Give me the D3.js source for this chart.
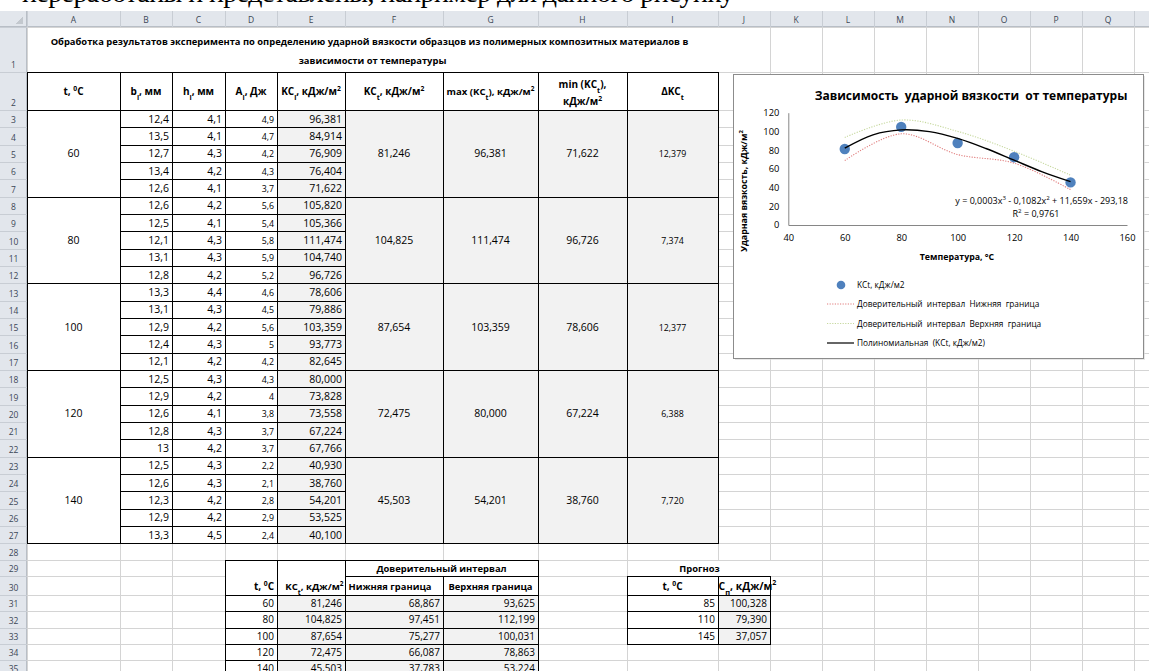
<!DOCTYPE html>
<html>
<head>
<meta charset="utf-8">
<script src="https://cdn.jsdelivr.net/npm/d3@7"></script>
<style>
  body { margin: 0; background: #fff; overflow: hidden; }
  text { font-family: "Open Sans", sans-serif; }
</style>
</head>
<body>
<svg id="sheet" width="1149" height="671"></svg>
<script>
// ---- данные таблицы ----
const colLetters = ["A","B","C","D","E","F","G","H","I","J","K","L","M","N","O","P","Q","R"];
const temps = [60, 80, 100, 120, 140];
const widthB = [12.4,13.5,12.7,13.4,12.6, 12.6,12.5,12.1,13.1,12.8, 13.3,13.1,12.9,12.4,12.1, 12.5,12.9,12.6,12.8,13, 12.5,12.6,12.3,12.9,13.3];
const heightH = [4.1,4.1,4.3,4.2,4.1, 4.2,4.1,4.3,4.3,4.2, 4.4,4.3,4.2,4.3,4.2, 4.3,4.2,4.1,4.3,4.2, 4.3,4.3,4.2,4.2,4.5];
const energyA = [4.9,4.7,4.2,4.3,3.7, 5.6,5.4,5.8,5.9,5.2, 4.6,4.5,5.6,5,4.2, 4.3,4,3.8,3.7,3.7, 2.2,2.1,2.8,2.9,2.4];
const kcI = [96.381,84.914,76.909,76.404,71.622, 105.820,105.366,111.474,104.740,96.726, 78.606,79.886,103.359,93.773,82.645,
             80.000,73.828,73.558,67.224,67.766, 40.930,38.760,54.201,53.525,40.100];
const kcMean = [81.246, 104.825, 87.654, 72.475, 45.503];
const kcMax = [96.381, 111.474, 103.359, 80.000, 54.201];
const kcMin = [71.622, 96.726, 78.606, 67.224, 38.760];
const deltaKC = [12.379, 7.374, 12.377, 6.388, 7.720];
const ciLow = [68.867, 97.451, 75.277, 66.087, 37.783];
const ciHigh = [93.625, 112.199, 100.031, 78.863, 53.224];
const forecastT = [85, 110, 145];
const forecastKC = [100.328, 79.390, 37.057];
// полиномиальная линия тренда
const trendX = [60, 70, 80, 90, 100, 110, 120, 130, 140];
const trendKC = [82.05, 96.31, 101.60, 99.72, 92.50, 81.74, 69.25, 56.83, 46.31];
const xTicks = [40, 60, 80, 100, 120, 140, 160];
const yTicks = [0, 20, 40, 60, 80, 100, 120];

// ---- геометрия листа ----
const colX = [27,120,172,225,277,345,443,538,627,718,770,822,874,926,978,1030,1082,1134,1186];
const rowEdges = [27, 72, 110];
for (let k = 1; k <= 25; k++) rowEdges.push(110 + 17.33 * k);
rowEdges.push(560, 576, 595);
for (let k = 1; k <= 5; k++) rowEdges.push(595 + 16.25 * k);

const svg = d3.select("#sheet");
const general = v => String(v).replace(".", ",");
const fixed3 = v => d3.format(".3f")(v).replace(".", ",");

function box(c1, r1, c2, r2) {
  const y0 = rowEdges[r1 - 1], y1 = rowEdges[r2];
  return {x: colX[c1], y: y0, w: colX[c2 + 1] - colX[c1], h: y1 - y0, cy: (y0 + y1) / 2};
}

function rich(g, x, y, anchor, parts, size, weight) {
  const t = g.append("text").attr("x", x).attr("y", y)
    .attr("text-anchor", anchor).attr("font-size", size)
    .attr("font-weight", weight || "normal").attr("fill", "#000");
  parts.forEach(p => {
    const s = t.append("tspan").text(p[0]);
    if (p[1] === "sub") s.attr("baseline-shift", "sub").attr("font-size", size * 0.72);
    if (p[1] === "sup") s.attr("baseline-shift", "super").attr("font-size", size * 0.68);
  });
  return t;
}

// сетка
const grid = svg.append("g").attr("shape-rendering", "crispEdges");
grid.selectAll(".vl").data(colX).enter().append("line")
  .attr("x1", d => d + 0.5).attr("x2", d => d + 0.5).attr("y1", 27).attr("y2", 671)
  .attr("stroke", "#d4d4d4");
grid.selectAll(".hl").data(rowEdges).enter().append("line")
  .attr("x1", 27).attr("x2", 1149).attr("y1", d => Math.round(d) + 0.5).attr("y2", d => Math.round(d) + 0.5)
  .attr("stroke", "#d4d4d4");

const cells = svg.append("g").attr("shape-rendering", "crispEdges");
const texts = svg.append("g");

function cell(c1, r1, c2, r2, fill, stroke) {
  const b = box(c1, r1, c2, r2);
  cells.append("rect")
    .attr("x", b.x + 0.5).attr("y", Math.round(b.y) + 0.5)
    .attr("width", b.w).attr("height", Math.round(b.y + b.h) - Math.round(b.y))
    .attr("fill", fill).attr("stroke", stroke ? "#000" : "none").attr("stroke-width", 1);
  return b;
}

// строка 1 — заголовок
let b = cell(0, 1, 8, 1, "#fff", false);
texts.append("text").attr("x", b.x + b.w / 2 - 3).attr("y", 45).attr("text-anchor", "middle")
  .attr("font-size", 9.4).attr("font-weight", "bold")
  .text("Обработка результатов эксперимента по определению ударной вязкости образцов из полимерных композитных материалов в");
texts.append("text").attr("x", b.x + b.w / 2).attr("y", 63.5).attr("text-anchor", "middle")
  .attr("font-size", 9.4).attr("font-weight", "bold").text("зависимости от температуры");

// строка 2 — шапка
const headParts = [
  [["t, "], ["0", "sup"], ["C"]],
  [["b"], ["i", "sub"], [", мм"]],
  [["h"], ["i", "sub"], [", мм"]],
  [["A"], ["i", "sub"], [", Дж"]],
  [["KC"], ["i", "sub"], [", кДж/м"], ["2", "sup"]],
  [["KC"], ["t", "sub"], [", кДж/м"], ["2", "sup"]],
  [["max (KC"], ["t", "sub"], ["), кДж/м"], ["2", "sup"]],
  null,
  [["ΔKC"], ["t", "sub"]]
];
const headSize = 10;
headParts.forEach((parts, c) => {
  const hb = cell(c, 2, c, 2, "#fff", true);
  if (parts) rich(texts, hb.x + hb.w / 2, hb.cy + 3.5, "middle", parts, c === 6 ? 9.6 : headSize, "bold");
});
b = box(7, 2, 7, 2);
rich(texts, b.x + b.w / 2, 88, "middle", [["min (KC"], ["t", "sub"], ["),"]], headSize, "bold");
rich(texts, b.x + b.w / 2, 105, "middle", [["кДж/м"], ["2", "sup"]], headSize, "bold");

// строки 3–27
temps.forEach((t, gi) => {
  const r0 = 3 + gi * 5;
  let mb = cell(0, r0, 0, r0 + 4, "#fff", true);
  texts.append("text").attr("x", mb.x + mb.w / 2).attr("y", mb.cy + 4).attr("text-anchor", "middle")
    .attr("font-size", 10.5).text(t);
  for (let i = 0; i < 5; i++) {
    const r = r0 + i, k = gi * 5 + i;
    [[1, general(widthB[k]), 10.5, "#fff"], [2, general(heightH[k]), 10.5, "#fff"],
     [3, general(energyA[k]), 8.8, "#fff"], [4, fixed3(kcI[k]), 10.5, "#f2f2f2"]].forEach(([c, s, fs, fill]) => {
      const cb = cell(c, r, c, r, fill, true);
      texts.append("text").attr("x", cb.x + cb.w - 3).attr("y", cb.cy + 4).attr("text-anchor", "end")
        .attr("font-size", fs).text(s);
    });
  }
  [[5, fixed3(kcMean[gi]), 10.5], [6, fixed3(kcMax[gi]), 10.5], [7, fixed3(kcMin[gi]), 10.5], [8, fixed3(deltaKC[gi]), 8.8]]
    .forEach(([c, s, fs]) => {
      const gb = cell(c, r0, c, r0 + 4, "#f2f2f2", true);
      texts.append("text").attr("x", gb.x + gb.w / 2).attr("y", gb.cy + 4).attr("text-anchor", "middle")
        .attr("font-size", fs).text(s);
    });
});

// доверительный интервал
b = cell(3, 29, 3, 30, "#fff", true);
rich(texts, b.x + b.w - 3, 590, "end", [["t, "], ["0", "sup"], ["C"]], 10, "bold");
b = cell(4, 29, 4, 30, "#fff", true);
rich(texts, b.x + b.w - 1.5, 590, "end", [["KC"], ["t", "sub"], [", кДж/м"], ["2", "sup"]], 9.6, "bold");
b = cell(5, 29, 6, 29, "#fff", true);
texts.append("text").attr("x", b.x + b.w / 2).attr("y", b.cy + 3.5).attr("text-anchor", "middle")
  .attr("font-size", 9.4).attr("font-weight", "bold").text("Доверительный интервал");
b = cell(5, 30, 5, 30, "#fff", true);
texts.append("text").attr("x", b.x + b.w / 2 - 4).attr("y", 590).attr("text-anchor", "middle")
  .attr("font-size", 9.4).attr("font-weight", "bold").text("Нижняя граница");
b = cell(6, 30, 6, 30, "#fff", true);
texts.append("text").attr("x", b.x + b.w / 2).attr("y", 590).attr("text-anchor", "middle")
  .attr("font-size", 9.4).attr("font-weight", "bold").text("Верхняя граница");
temps.forEach((t, i) => {
  const r = 31 + i;
  [[3, String(t), "#fff"], [4, fixed3(kcMean[i]), "#f2f2f2"], [5, fixed3(ciLow[i]), "#f2f2f2"], [6, fixed3(ciHigh[i]), "#f2f2f2"]]
    .forEach(([c, s, fill]) => {
      const cb = cell(c, r, c, r, fill, true);
      texts.append("text").attr("x", cb.x + cb.w - 3).attr("y", cb.cy + 4).attr("text-anchor", "end")
        .attr("font-size", 10).text(s);
    });
});

// прогноз
b = cell(8, 29, 9, 29, "#fff", false);
texts.append("text").attr("x", b.x + b.w / 2 + 1).attr("y", b.cy + 3.5).attr("text-anchor", "middle")
  .attr("font-size", 9.4).attr("font-weight", "bold").text("Прогноз");
b = cell(8, 30, 8, 30, "#fff", true);
rich(texts, b.x + b.w / 2, 590, "middle", [["t, "], ["0", "sup"], ["C"]], 10, "bold");
b = cell(9, 30, 9, 30, "#fff", true);
svg.append("clipPath").attr("id", "jclip").append("rect").attr("x", b.x + 1).attr("y", b.y).attr("width", 200).attr("height", b.h);
rich(texts.append("g").attr("clip-path", "url(#jclip)"), b.x + b.w / 2, 590, "middle",
  [["KC"], ["п", "sub"], [", кДж/м"], ["2", "sup"]], 10.4, "bold");
forecastT.forEach((t, i) => {
  const r = 31 + i;
  let cb = cell(8, r, 8, r, "#fff", true);
  texts.append("text").attr("x", cb.x + cb.w - 3).attr("y", cb.cy + 4).attr("text-anchor", "end").attr("font-size", 10).text(t);
  cb = cell(9, r, 9, r, "#f2f2f2", true);
  texts.append("text").attr("x", cb.x + cb.w - 3).attr("y", cb.cy + 4).attr("text-anchor", "end").attr("font-size", 10).text(fixed3(forecastKC[i]));
});

// заголовки строк и столбцов
const hdr = svg.append("g").attr("shape-rendering", "crispEdges");
hdr.append("rect").attr("x", 0).attr("y", 11).attr("width", 1149).attr("height", 16).attr("fill", "#e2e6ec");
hdr.append("rect").attr("x", 0).attr("y", 11).attr("width", 27).attr("height", 660).attr("fill", "#e2e6ec");
hdr.append("path").attr("d", "M23,16 L23,24 L15,24 Z").attr("fill", "#c3c8ce");
hdr.append("line").attr("x1", 0).attr("x2", 1149).attr("y1", 26.5).attr("y2", 26.5).attr("stroke", "#b8bec6");
hdr.append("line").attr("x1", 26.5).attr("x2", 26.5).attr("y1", 11).attr("y2", 671).attr("stroke", "#b8bec6");
hdr.selectAll(".cs").data(colX).enter().append("line")
  .attr("x1", d => d + 0.5).attr("x2", d => d + 0.5).attr("y1", 11).attr("y2", 27).attr("stroke", "#c8cdd4");
hdr.selectAll(".rs").data(rowEdges).enter().append("line")
  .attr("x1", 0).attr("x2", 27).attr("y1", d => Math.round(d) + 0.5).attr("y2", d => Math.round(d) + 0.5).attr("stroke", "#c8cdd4");
hdr.selectAll(".cl").data(colLetters).enter().append("text")
  .attr("x", (d, i) => (colX[i] + colX[i + 1]) / 2).attr("y", 22.5).attr("text-anchor", "middle")
  .attr("font-size", 8.5).attr("fill", "#3c4656").text(d => d);
hdr.selectAll(".rn").data(d3.range(1, 36)).enter().append("text")
  .attr("x", 13.5).attr("y", d => rowEdges[d] - 4).attr("text-anchor", "middle")
  .attr("font-size", 8.5).attr("fill", "#3c4656").text(d => d);

// обрезанная строка документа сверху
svg.append("clipPath").attr("id", "topclip").append("rect").attr("x", 0).attr("y", 0).attr("width", 1149).attr("height", 11);
svg.append("text").attr("clip-path", "url(#topclip)").attr("x", 22).attr("y", 2)
  .attr("textLength", 712).attr("lengthAdjust", "spacing")
  .style("font-family", "'Liberation Serif', serif").attr("font-size", 28)
  .text("переработаны и представлены, например для данного рисунку");

// ---- диаграмма ----
const chart = svg.append("g");
chart.append("rect").attr("x", 735).attr("y", 76).attr("width", 410).attr("height", 284)
  .attr("fill", "#d9d9d9").attr("opacity", 0.6);
chart.append("rect").attr("x", 733.5).attr("y", 74.5).attr("width", 410).attr("height", 284)
  .attr("fill", "#fff").attr("stroke", "#8c8c8c");

const x = d3.scaleLinear().domain([40, 160]).range([788.3, 1127]);
const y = d3.scaleLinear().domain([0, 120]).range([225, 112.7]);

chart.append("text").attr("x", 971).attr("y", 100).attr("text-anchor", "middle")
  .attr("font-size", 12).attr("font-weight", "bold").style("white-space", "pre")
  .text("Зависимость  ударной вязкости  от температуры");

const xAxis = chart.append("g").attr("transform", `translate(0,${y(0)})`)
  .call(d3.axisBottom(x).tickValues(xTicks).tickSize(0).tickPadding(9));
const yAxis = chart.append("g").attr("transform", `translate(${x(40)},0)`)
  .call(d3.axisLeft(y).tickValues(yTicks).tickSize(0).tickPadding(9));
[xAxis, yAxis].forEach(a => {
  a.select(".domain").attr("stroke", "#868686");
  a.selectAll("text").attr("font-size", 9.3).attr("fill", "#000").style("font-family", "'Open Sans', sans-serif");
});

chart.append("text").attr("x", 957).attr("y", 260).attr("text-anchor", "middle")
  .attr("font-size", 8.8).attr("font-weight", "bold").text("Температура, °С");
rich(chart.append("g").attr("transform", "translate(747,191) rotate(-90)"), 0, 0, "middle",
  [["Ударная вязкость, кДж/м"], ["2", "sup"]], 8.8, "bold");

const line = d3.line().curve(d3.curveCatmullRom.alpha(0.5));
chart.append("path").attr("fill", "none").attr("stroke", "#e07b7b").attr("stroke-width", 1.1)
  .attr("stroke-dasharray", "1.2,1.4")
  .attr("d", line(temps.map((t, i) => [x(t), y(ciLow[i])])));
chart.append("path").attr("fill", "none").attr("stroke", "#c6d89e").attr("stroke-width", 1.1)
  .attr("stroke-dasharray", "1.2,1.4")
  .attr("d", line(temps.map((t, i) => [x(t), y(ciHigh[i])])));
chart.selectAll(".pt").data(temps).enter().append("circle")
  .attr("cx", d => x(d)).attr("cy", (d, i) => y(kcMean[i])).attr("r", 5.2).attr("fill", "#4f81bd");
chart.append("path").attr("fill", "none").attr("stroke", "#000").attr("stroke-width", 1.4)
  .attr("d", line(trendX.map((t, i) => [x(t), y(trendKC[i])])));

rich(chart, 1128, 204, "end", [["y = 0,0003x"], ["3", "sup"], [" - 0,1082x"], ["2", "sup"], [" + 11,659x - 293,18"]], 9);
rich(chart, 1036, 217, "middle", [["R"], ["2", "sup"], [" = 0,9761"]], 9);

// легенда
const legend = chart.append("g");
legend.append("circle").attr("cx", 841).attr("cy", 285).attr("r", 4.3).attr("fill", "#4f81bd");
const legendRows = [
  {y: 304, stroke: "#e07b7b", dash: "1.2,1.4", w: 1},
  {y: 323.5, stroke: "#c6d89e", dash: "1.2,1.4", w: 1},
  {y: 343, stroke: "#000", dash: null, w: 1.2}
];
legendRows.forEach(r => {
  legend.append("line").attr("x1", 827).attr("x2", 854).attr("y1", r.y).attr("y2", r.y)
    .attr("stroke", r.stroke).attr("stroke-width", r.w).attr("stroke-dasharray", r.dash);
});
const legendLabels = ["KCt, кДж/м2", "Доверительный  интервал  Нижняя  граница",
  "Доверительный  интервал  Верхняя  граница", "Полиномиальная  (KCt, кДж/м2)"];
legend.selectAll(".lt").data(legendLabels).enter().append("text")
  .attr("x", 857).attr("y", (d, i) => [288, 307, 326.5, 346][i])
  .attr("font-size", 8.3).style("white-space", "pre").text(d => d);
</script>
</body>
</html>
